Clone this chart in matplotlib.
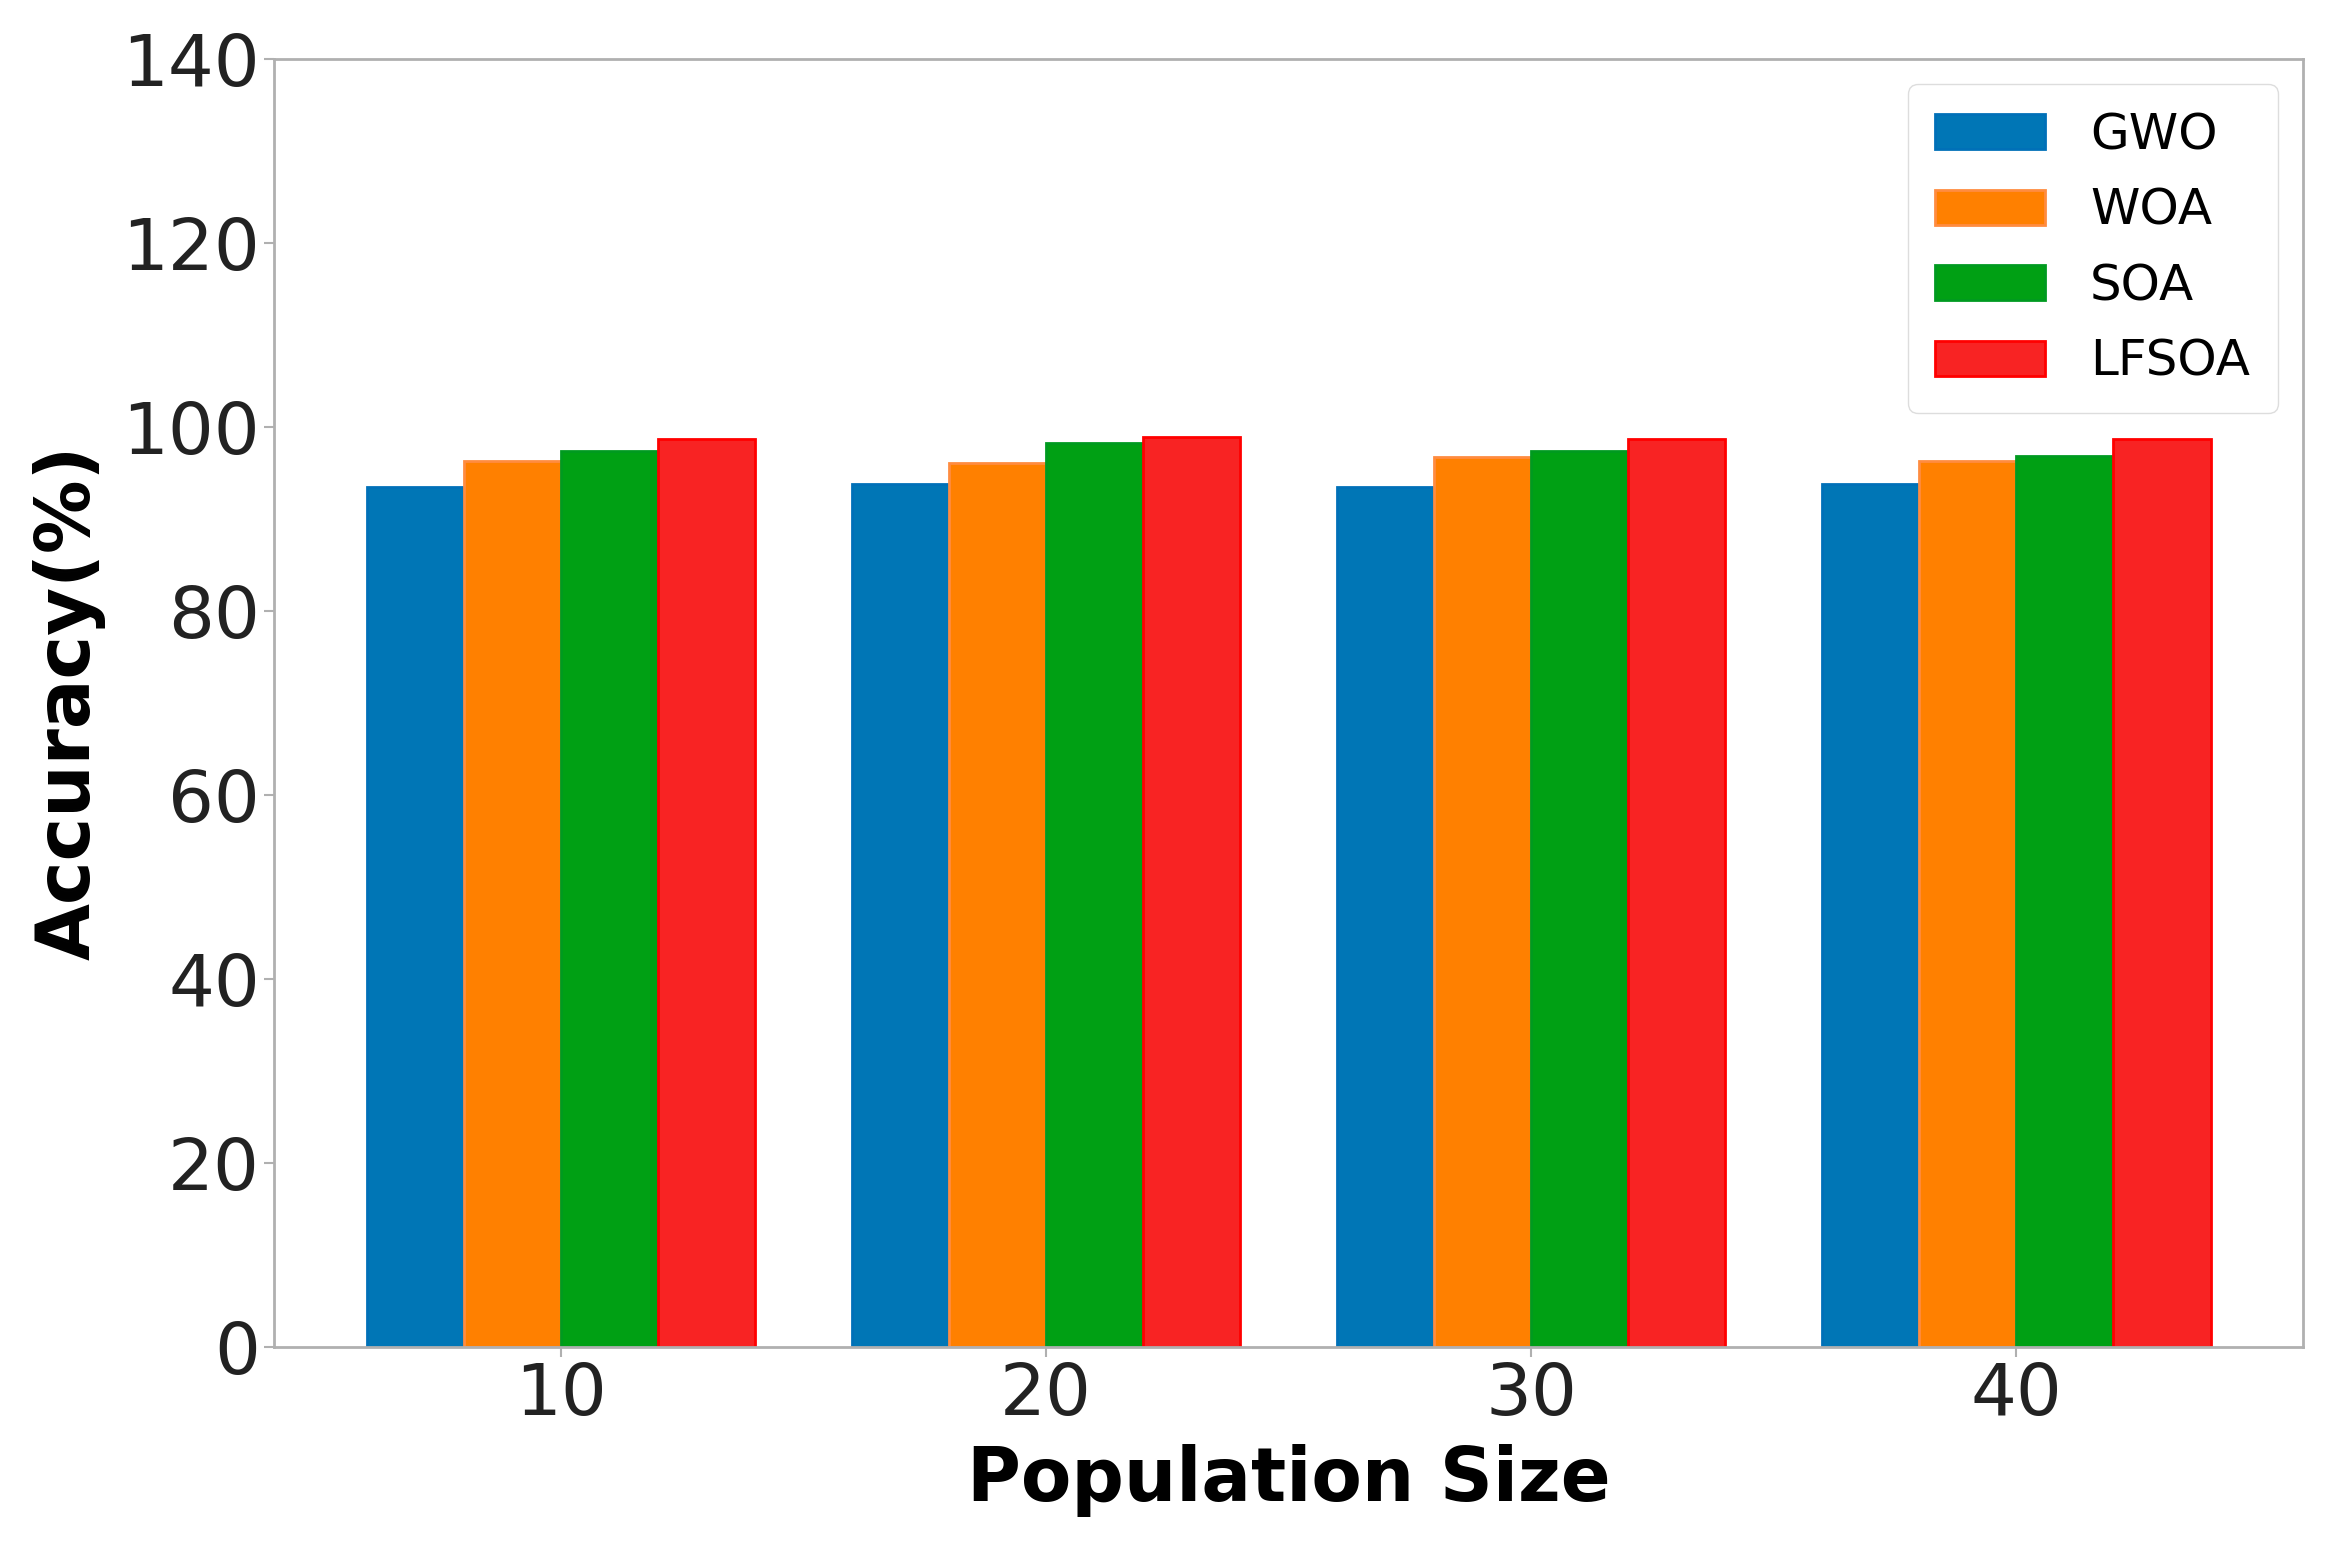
import numpy as np
import matplotlib
matplotlib.use('Agg')
import matplotlib.pyplot as plt

# values
pop_sizes = ['10', '20', '30', '40']
gwo = [93.4, 93.8, 93.4, 93.8]
woa = [96.3, 96.0, 96.7, 96.3]
soa = [97.3, 98.2, 97.3, 96.8]
lfsoa = [98.7, 98.9, 98.7, 98.7]

series = [('GWO', gwo, '#0076b6', '#0070b8'),
          ('WOA', woa, '#ff8000', '#ff8c40'),
          ('SOA', soa, '#00a014', '#009a20'),
          ('LFSOA', lfsoa, '#f82323', '#ff0000')]

fig = plt.figure(figsize=(23.26, 15.41), dpi=100)
ax = fig.add_axes([0.118, 0.126, 0.872, 0.836])

x = np.arange(len(pop_sizes))
w = 0.2
for i, (name, vals, fc, ec) in enumerate(series):
    ax.bar(x + (i - 1.5) * w, vals, w, color=fc, edgecolor=ec, linewidth=2, label=name)

ax.set_ylim(0, 140)
ax.set_yticks(range(0, 141, 20))
ax.set_xticks(x)
ax.set_xticklabels(pop_sizes)
ax.tick_params(labelsize=52, colors='#b0b0b0', labelcolor='#222222', length=7, width=1.5)
for s in ax.spines.values():
    s.set_color('#b0b0b0')
    s.set_linewidth(2)

ax.set_xlabel('Population Size', fontsize=53, fontweight='bold', labelpad=10)
ax.set_ylabel('Accuracy(%)', fontsize=53, fontweight='bold', labelpad=12)

ax.legend(loc='upper right', fontsize=36, handlelength=2.2, handleheight=0.7,
          handletextpad=0.9, labelspacing=0.55, borderpad=0.55, framealpha=1,
          edgecolor='#dddddd', fancybox=True)

fig.savefig('out.png', dpi=100)
